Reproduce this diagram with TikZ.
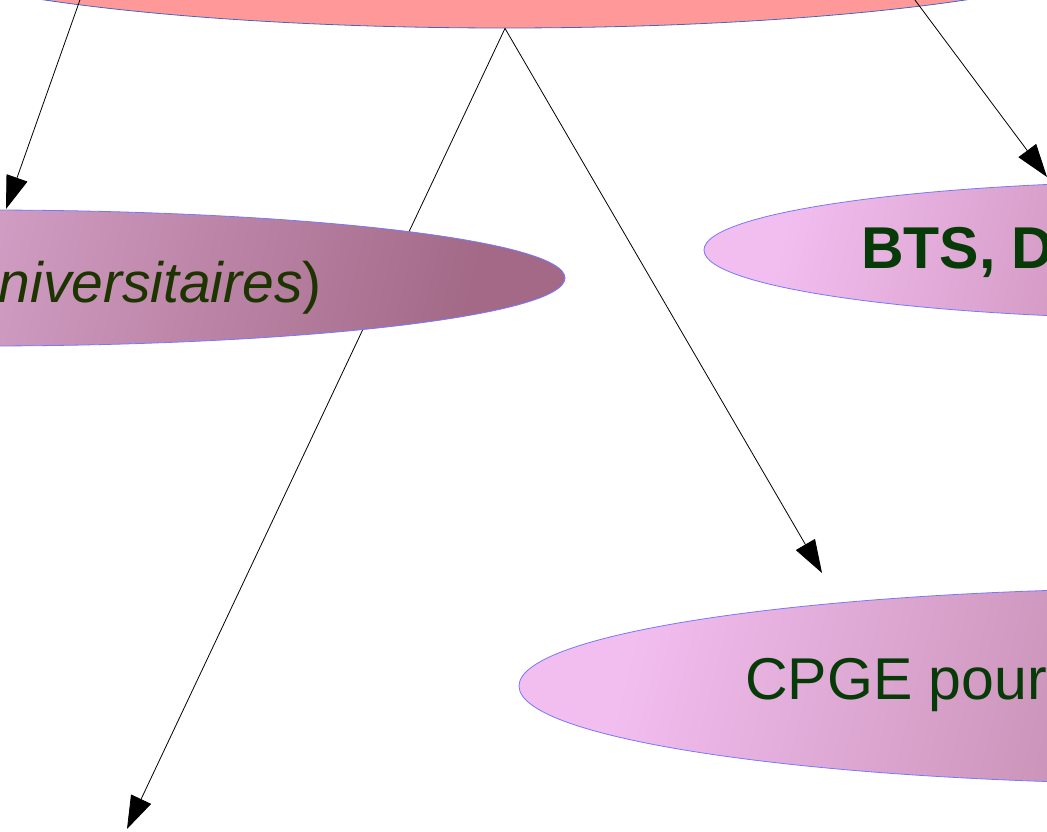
\documentclass[tikz,border=0pt]{standalone}
\usepackage{fontspec}
\setmainfont{Liberation Sans}
\usetikzlibrary{shapes.geometric,arrows.meta}
\definecolor{topfill}{HTML}{FF9999}
\definecolor{topedge}{HTML}{4466BB}
\definecolor{edgeblue}{HTML}{7777FF}
\definecolor{txtgreen}{HTML}{063A06}
\definecolor{txtolive}{HTML}{1C3400}
\definecolor{lA}{HTML}{FFD0FF}
\definecolor{lB}{HTML}{A36987}
\definecolor{bA}{HTML}{F2BEF0}
\definecolor{bB}{HTML}{9D5873}
\definecolor{cA}{HTML}{F2BEF0}
\definecolor{cB}{HTML}{8E5264}
\tikzset{
  oval/.style={ellipse, draw=edgeblue, line width=0.8pt, inner sep=0pt},
  conn/.style={draw=black, line width=0.8pt, -{Triangle[length=33pt,width=22pt]}},
  lbl/.style={inner sep=0pt, font=\fontsize{57}{60}\selectfont}
}
\begin{document}
\begin{tikzpicture}[x=1pt,y=-1pt]
\useasboundingbox (0,0) rectangle (1047,832);
\node[oval, draw=topedge, fill=topfill, minimum width=1270pt, minimum height=180pt] (top) at (505,-62) {};
\coordinate (ls) at (87,-20);
\coordinate (lt) at (6,209);
\coordinate (rs) at (900,-20);
\coordinate (rt) at (1047,177);
\coordinate (bl) at (127,829);
\coordinate (ct) at (822,573);
\draw[conn] (ls) -- (lt);
\draw[conn] (rs) -- (rt);
\draw[conn] (top.south) -- (bl);
\draw[conn] (top.south) -- (ct);
\node[oval, left color=lA, right color=lB, shading angle=76, minimum width=1164pt, minimum height=136pt] (L) at (-17,278) {};
\node[oval, left color=bA, right color=bB, shading angle=76, minimum width=1000pt, minimum height=138pt] (B) at (1204,250) {};
\node[oval, left color=cA, right color=cB, shading angle=76, minimum width=1362pt, minimum height=196pt] (C) at (1200,686) {};
\node[lbl, anchor=base east, text=txtolive] (Lt) at (322,302) {\textit{niversitaires})};
\node[lbl, anchor=base west, text=txtgreen, font=\fontsize{59}{62}\selectfont] (Bt) at (861,268) {\textbf{BTS, D}};
\node[lbl, anchor=base west, text=txtgreen, font=\fontsize{59}{62}\selectfont] (Ct) at (745,699) {CPGE pour};
\end{tikzpicture}
\end{document}
